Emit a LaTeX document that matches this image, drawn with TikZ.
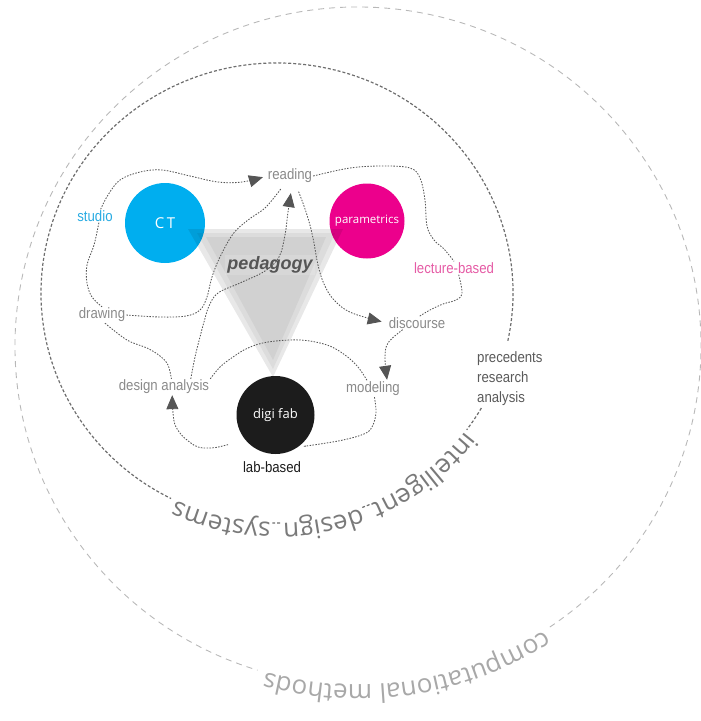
\documentclass[tikz,border=0pt]{standalone}
\usepackage{fontspec}
\usetikzlibrary{arrows.meta,decorations.text,calc}
\newfontfamily\lblfont[FakeStretch=0.88]{Liberation Sans}
\newfontfamily\pedfont{Liberation Sans}
\newfontfamily\circfont{Open Sans}
\newfontfamily\idsfont{Open Sans}
\definecolor{ctcyan}{HTML}{00AEEF}
\definecolor{parmag}{HTML}{EC008C}
\definecolor{dfblack}{HTML}{1C1C1C}
\definecolor{studiocol}{HTML}{29ABE2}
\definecolor{lecturecol}{HTML}{E55BA5}
\definecolor{lblgrey}{HTML}{8A8A8A}
\definecolor{darktxt}{HTML}{5A5A5A}
\definecolor{pedtxt}{HTML}{555555}
\definecolor{conncol}{HTML}{555555}
\definecolor{innercol}{HTML}{6E6E6E}
\definecolor{innertxt}{HTML}{7A7A7A}
\definecolor{outercol}{HTML}{B8B8B8}
\definecolor{outertxt}{HTML}{A8A8A8}
\newlength\wInt
\newlength\wDes
\newlength\wSys
\newlength\wComp
\newcommand\idssize{\fontsize{26}{30}\selectfont}
\newcommand\lblsize{\fontsize{15}{20}\selectfont}
\begin{document}
\settowidth{\wComp}{\idsfont\fontsize{26}{30}\selectfont computational methods}%
\settowidth{\wInt}{\idsfont\fontsize{26}{30}\selectfont intelligent}%
\settowidth{\wDes}{\idsfont\fontsize{26}{30}\selectfont design}%
\settowidth{\wSys}{\idsfont\fontsize{26}{30}\selectfont systems}%
\pgfmathsetmacro\oS{-57}%
\pgfmathsetmacro\oE{\oS - \wComp/340/pi*180}%
\pgfmathsetmacro\kk{180/(pi*233)}%
\pgfmathsetmacro\aI{-37}%
\pgfmathsetmacro\bI{\aI-\wInt*\kk}%
\pgfmathsetmacro\aD{\bI-11*\kk}%
\pgfmathsetmacro\bD{\aD-\wDes*\kk}%
\pgfmathsetmacro\aS{\bD-11*\kk}%
\pgfmathsetmacro\bS{\aS-\wSys*\kk}%
\begin{tikzpicture}[x=1pt,y=1pt,
  lbl/.style={font=\lblfont\lblsize, text=lblgrey, inner sep=1pt},
  conn/.style={draw=conncol, line width=0.85pt, dash pattern=on 1.5pt off 1.4pt},
  arrw/.style={-{Triangle[length=14pt,width=12pt]}},
  innerc/.style={draw=innercol, line width=1.2pt, dash pattern=on 3pt off 2pt},
  outerc/.style={draw=outercol, line width=0.9pt, dash pattern=on 6pt off 5pt},
  bigcirc/.style={circle, inner sep=0pt, text=white}]
\useasboundingbox (0,0) rectangle (701,-721);

% ---------- outer ellipse with text ----------
\draw[outerc] ($(358,-346)+(\oS+1:343pt and 339pt)$)
  arc[start angle=\oS+1, end angle=\oE+359, x radius=343pt, y radius=339pt];
\path[decorate, decoration={text along path,
   text={|\idsfont\idssize\color{outertxt}|computational methods}}]
  ($(358,-346)+(\oS:343pt and 339pt)$)
  arc[start angle=\oS, end angle=\oS-75, x radius=343pt, y radius=339pt];

% ---------- inner ellipse with text ----------
\draw[innerc] ($(277,-293)+(-12:236pt and 230pt)$)
  arc[start angle=-12, end angle=\bS+359, x radius=236pt, y radius=230pt];
\draw[innerc] ($(277,-293)+(-30:236pt and 230pt)$)
  arc[start angle=-30, end angle=\aI+0.5, x radius=236pt, y radius=230pt];
\draw[innerc] ($(277,-293)+(\bI-0.4:236pt and 230pt)$)
  arc[start angle=\bI-0.4, end angle=\aD+0.4, x radius=236pt, y radius=230pt];
\draw[innerc] ($(277,-293)+(\bD-0.4:236pt and 230pt)$)
  arc[start angle=\bD-0.4, end angle=\aS+0.4, x radius=236pt, y radius=230pt];
\path[decorate, decoration={text along path,
   text={|\idsfont\idssize\color{innertxt}|intelligent}}]
  ($(277,-293)+(\aI:236pt and 230pt)$)
  arc[start angle=\aI, end angle=\aI-40, x radius=236pt, y radius=230pt];
\path[decorate, decoration={text along path,
   text={|\idsfont\idssize\color{innertxt}|design}}]
  ($(277,-293)+(\aD:236pt and 230pt)$)
  arc[start angle=\aD, end angle=\aD-30, x radius=236pt, y radius=230pt];
\path[decorate, decoration={text along path,
   text={|\idsfont\idssize\color{innertxt}|systems}}]
  ($(277,-293)+(\aS:236pt and 230pt)$)
  arc[start angle=\aS, end angle=\aS-35, x radius=236pt, y radius=230pt];

% ---------- big circles ----------
\node[bigcirc, fill=ctcyan, minimum size=80pt, font=\circfont\fontsize{15}{18}\selectfont] (ct) at (165,-223) {C\kern2.5pt T};
\node[bigcirc, fill=parmag, minimum size=75pt, font=\circfont\fontsize{11.5}{14}\selectfont] (param) at (367,-221) {parametrics};
\node[bigcirc, fill=dfblack, minimum size=78pt, font=\circfont\fontsize{13}{16}\selectfont] (digifab) at (275.5,-415) {digi fab};

% ---------- pedagogy triangle ----------
\fill[black, fill opacity=0.09] (188,-229) -- (343,-229) -- (273,-377) -- cycle;
\fill[black, fill opacity=0.05] (197,-233) -- (335,-233) -- (273,-369) -- cycle;
\fill[black, fill opacity=0.05] (206,-237) -- (326,-237) -- (273,-360) -- cycle;
\node[font=\pedfont\bfseries\itshape\fontsize{18}{20}\selectfont, text=pedtxt,
      fill=white, fill opacity=0.12, text opacity=1, inner sep=2pt] (ped) at (270,-265) {pedagogy};

% ---------- labels ----------
\node[lbl] (reading) at (290,-176) {reading};
\node[lbl, text=studiocol] (studio) at (95,-216) {studio};
\node[lbl] (drawing) at (102,-315) {drawing};
\node[lbl, text=lecturecol] (lecture) at (454,-268) {lecture-based};
\node[lbl] (discourse) at (417,-323) {discourse};
\node[lbl] (design) at (164,-387) {design analysis};
\node[lbl] (modeling) at (373,-389) {modeling};
\node[lbl, text=dfblack] (labbased) at (272,-467) {lab-based};
\node[lbl, text=darktxt, anchor=west, align=left] (prec) at (476,-379) {precedents\\research\\analysis};

% ---------- connectors ----------
% studio -> reading
\draw[conn, arrw, shorten >=4pt] plot[smooth, tension=0.6] coordinates
  {(studio.50) (108,-195) (120,-180) (140,-172) (162,-170) (190,-176) (218,-182) (242,-182) (reading.west)};
% studio -- drawing
\draw[conn] plot[smooth, tension=0.6] coordinates
  {(studio.-60) (94,-245) (87,-265) (87,-283) (92,-297) (drawing.north)};
% drawing -- reading
\draw[conn, shorten >=7pt] plot[smooth, tension=0.6] coordinates
  {(drawing.east) (160,-317) (186,-316) (200,-310) (207,-297) (212,-277) (220,-257) (233,-234) (248,-220) (266,-207) (reading.-125)};
% design analysis -> reading
\draw[conn, arrw, shorten >=9pt] plot[smooth, tension=0.6] coordinates
  {(design.17) (195,-357) (200,-337) (204,-322) (209,-306) (218,-293) (240,-283) (265,-271) (279,-257) (285,-235) (288,-212) (reading.-75)};
% reading -> discourse
\draw[conn, arrw, shorten <=8pt, shorten >=6pt] plot[smooth, tension=0.6] coordinates
  {(reading.-55) (307,-215) (313,-238) (318,-265) (324,-284) (334,-300) (352,-313) (discourse.west)};
% reading -- lecture-based
\draw[conn] plot[smooth, tension=0.6] coordinates
  {(reading.east) (350,-168) (383,-166) (410,-168) (420,-178) (425,-200) (427,-226) (434,-240) (444,-249) (lecture.north)};
% lecture-based -- discourse
\draw[conn] plot[smooth, tension=0.6] coordinates
  {(lecture.-55) (462,-293) (456,-300) (443,-304) (430,-310) (discourse.70)};
% discourse -> modeling
\draw[conn, arrw, shorten >=1pt] plot[smooth, tension=0.6] coordinates
  {(discourse.-155) (388,-343) (385,-358) (modeling.30)};
% design analysis -- modeling
\draw[conn] plot[smooth, tension=0.6] coordinates
  {(design.north east) (220,-367) (233,-357) (248,-348) (268,-342) (300,-340) (327,-345) (345,-355) (358,-367) (modeling.125)};
% modeling -- digi fab
\draw[conn, shorten >=8pt] plot[smooth, tension=0.6] coordinates
  {(modeling.-80) (376,-413) (372,-427) (364,-434) (343,-440) (320,-444) (digifab.-55)};
% digi fab -> design analysis
\draw[conn, arrw, shorten <=18pt] plot[smooth, tension=0.6] coordinates
  {(digifab.-140) (205,-448) (187,-440) (176,-427) (173,-413) (design.-45)};
% drawing -- design analysis
\draw[conn] plot[smooth, tension=0.6] coordinates
  {(drawing.-70) (127,-340) (147,-348) (160,-356) (168,-365) (design.48)};
\end{tikzpicture}
\end{document}
